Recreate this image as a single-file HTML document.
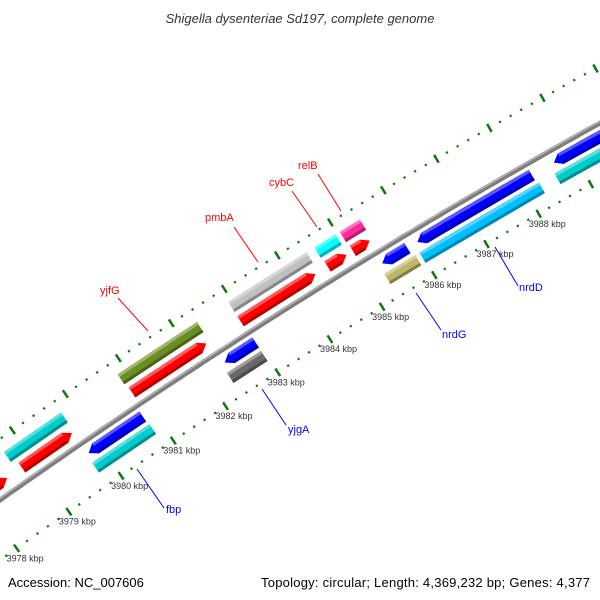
<!DOCTYPE html>
<html><head><meta charset="utf-8"><style>
body{margin:0;background:#fff}
svg{display:block}
text{font-family:"Liberation Sans",sans-serif}
</style></head><body>
<svg id="map" width="600" height="600" viewBox="0 0 600 600">
<text x="300" y="23" text-anchor="middle" font-size="13" font-style="italic" fill="#333">Shigella dysenteriae Sd197, complete genome</text>
<g id="ticks"></g>
<g id="backbone"></g>
<g id="feats"></g>
<g id="labels"></g>
<text x="8" y="587" font-size="13" fill="#000">Accession: NC_007606</text>
<text x="590" y="587" font-size="13" fill="#000" text-anchor="end" textLength="329">Topology: circular; Length: 4,369,232 bp; Genes: 4,377</text>
</svg>
<script>
// data (kbp)
const tickStart = 3977;
const tickEnd = 3991;
const tickLabels = [3978,3979,3980,3981,3982,3983,3984,3985,3986,3987,3988];
const featStart = [3977.27,3978.79,3980.88,3982.94,3984.59,3985.07, 3978.70,3980.85,3982.94,3984.57,3985.05, 3979.78,3982.37,3985.37,3986.04,3988.64, 3979.74,3982.31,3985.31,3985.98,3988.56];
const featEnd   = [3978.51,3979.74,3982.29,3984.36,3984.95,3985.39, 3979.78,3982.35,3984.42,3984.97,3985.43, 3980.81,3982.96,3985.85,3988.22,3990.58, 3980.83,3982.96,3985.90,3988.26,3990.58];
const featRing  = ['oa','oa','oa','oa','oa','oa','ob','ob','ob','ob','ob','ia','ia','ia','ia','ia','ib','ib','ib','ib','ib'];
const featColor = ['#ff0000','#ff0000','#ff0000','#ff0000','#ff0000','#ff0000','#00cccc','#6b8e23','#c0c0c0','#00ffff','#ff2a9a','#0000ff','#0000ff','#0000ff','#0000ff','#0000ff','#00cccc','#696969','#bdb76b','#00bfff','#00cccc'];
const geneNames = ['yjfG','pmbA','cybC','relB','fbp','yjgA','nrdG','nrdD'];
const geneLabelXY = [[100,294],[205,221],[269,186],[298,169],[166,513],[288,433],[442,338],[519,291]];
const geneLineXY = [[118,298,148,331],[234,227,258,262],[292,191,317,227],[318,174,341,211],[137,469,164,508],[262,389,286,425],[416,293,441,330],[495,247,518,286]];
const geneColor = ['#ff0000','#ff0000','#ff0000','#ff0000','#0000ff','#0000ff','#0000ff','#0000ff'];

const NS='http://www.w3.org/2000/svg';
const A=0.0001265,Bc=-0.7042,C=500;
function kx(k){return 93.5+(k-3980)*52.6;}
function P(k,r){const x=kx(k);const s=2*A*x+Bc;const L=Math.hypot(1,s);
  const y=A*x*x+Bc*x+C;return [x+r*(-s/L),y+r*(1/L)];}
function mk(tag,attrs,parent){const e=document.createElementNS(NS,tag);for(const a in attrs)e.setAttribute(a,attrs[a]);parent.appendChild(e);return e;}
const rings={oa:[-20,-8],ob:[-37,-25],ia:[6,18],ib:[22,34]};
const rIn=49,rOut=-50;
// backbone
let d='';for(let k=3975;k<=3992;k+=0.1){const p=P(k,0);d+=(d?'L':'M')+p[0].toFixed(1)+','+p[1].toFixed(1);}
const bb=document.getElementById('backbone');
mk('path',{d:d,stroke:'#7d7d7d','stroke-width':5,fill:'none'},bb);
mk('path',{d:d,stroke:'#b5b5b5','stroke-width':1.5,fill:'none',transform:'translate(-0.8,-1.2)'},bb);
// ticks
const tg=document.getElementById('ticks');
for(let i=0;i<=(tickEnd-tickStart)*5;i++){const k=tickStart+i*0.2;const major=i%5===0;
  for(const r of [rIn,rOut]){
    const a=P(k,r-(major?4.5:1.1)),b=P(k,r+(major?4.5:1.1));
    const t=mk('line',{x1:a[0],y1:a[1],x2:b[0],y2:b[1],stroke:'#0a7a0a','stroke-width':major?2.5:2.2},tg);
    
    
  }}
tickLabels.forEach(k=>{const p=P(k,rIn);const t=mk('text',{x:p[0]-10,y:p[1]+13,'font-size':9,fill:'#333'},tg);t.textContent=k+' kbp';
  
  });
// features
function shade(c,f){const n=parseInt(c.slice(1),16);let r=n>>16,g=(n>>8)&255,b=n&255;
  const m=v=>Math.max(0,Math.min(255,Math.round(f>0?v+(255-v)*f:v*(1+f))));return `rgb(${m(r)},${m(g)},${m(b)})`;}
const fg=document.getElementById('feats');
featStart.forEach((k1,i)=>{const k2=featEnd[i];const [r1,r2]=rings[featRing[i]];const rm=(r1+r2)/2;
  const fwd=featRing[i]==='oa',rev=featRing[i]==='ia';const h=0.13;
  const pts=[];const ka=rev?k1+h:k1,kb=fwd?k2-h:k2;
  for(let k=ka;k<=kb+1e-6;k+=Math.max(0.05,(kb-ka)/20))pts.push(P(k,r1));pts.push(P(kb,r1));
  if(fwd)pts.push(P(k2,rm));
  for(let k=kb;k>=ka-1e-6;k-=Math.max(0.05,(kb-ka)/20))pts.push(P(k,r2));pts.push(P(ka,r2));
  if(rev)pts.push(P(k1,rm));
  const g=mk('g',{},fg);
  
  
  mk('polygon',{points:pts.map(p=>p[0].toFixed(1)+','+p[1].toFixed(1)).join(' '),fill:featColor[i]},g);
  const top=[P(ka,r1),P(kb,r1),P(kb,r1+3),P(ka,r1+3)];
  mk('polygon',{points:top.map(p=>p.join(',')).join(' '),fill:shade(featColor[i],0.35)},g);
  const bot=[P(ka,r2-3),P(kb,r2-3),P(kb,r2),P(ka,r2)];
  mk('polygon',{points:bot.map(p=>p.join(',')).join(' '),fill:shade(featColor[i],-0.3)},g);
});
// labels
const lg=document.getElementById('labels');
geneNames.forEach((n,i)=>{const l=geneLineXY[i];
  const ln=mk('line',{x1:l[0],y1:l[1],x2:l[2],y2:l[3],stroke:geneColor[i],'stroke-width':1},lg);
  
  
  const t=mk('text',{x:geneLabelXY[i][0],y:geneLabelXY[i][1],'font-size':11,fill:geneColor[i]},lg);t.textContent=n;
  
  });
</script>
</body></html>
